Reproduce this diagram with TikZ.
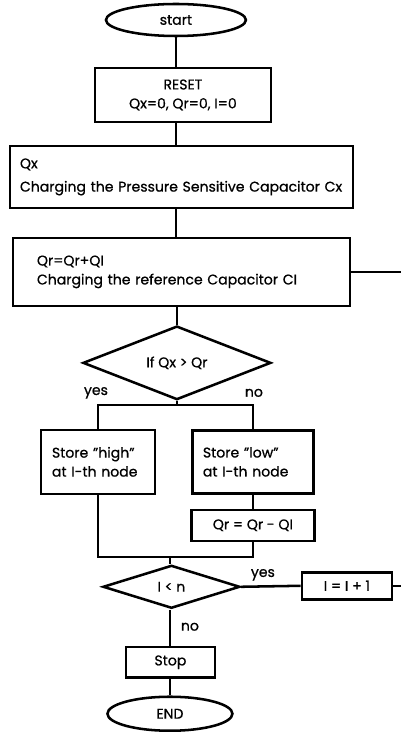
\documentclass[tikz,border=0pt]{standalone}
\usepackage{fontspec}
\setmainfont{Poppins}[FakeBold=0.8]
\usetikzlibrary{shapes.geometric}
\begin{document}
\begin{tikzpicture}[x=0.025cm,y=-0.025cm,font=\rmfamily\fontsize{10}{13.5}\selectfont,
  line width=1.8pt,
  box/.style={draw,rectangle,inner sep=0pt,align=center},
  term/.style={draw,ellipse,inner sep=0pt},
  test/.style={draw,diamond,inner sep=0pt},
  lbl/.style={inner sep=0pt}]
  \node[term,minimum width=3.5cm,minimum height=0.8cm] (start) at (176,20) {start};
  \node[box,minimum width=4.4cm,minimum height=1.35cm] (reset) at (183,95)
    {RESET\\Qx=0, Qr=0, I=0};
  \node[box,minimum width=8.575cm,minimum height=1.55cm,text width=8.075cm,align=left]
    (qx) at (181.5,177) {Qx\\[3pt]Charging the Pressure Sensitive Capacitor Cx};
  \node[box,minimum width=8.425cm,minimum height=1.7cm,text width=7.225cm,align=left]
    (qr) at (181.5,272) {Qr=Qr+QI\\Charging the reference Capacitor CI};
  \node[test,minimum width=4.7cm,minimum height=1.425cm] (cmp) at (177,363) {If Qx > Qr};
  \node[box,minimum width=2.85cm,minimum height=1.6cm,text width=2.3cm,align=left]
    (high) at (98,462) {Store "high"\\at I-th node};
  \node[box,minimum width=3.025cm,minimum height=1.575cm,text width=2.5cm,align=left]
    (low) at (253,462) {Store "low"\\at I-th node};
  \node[box,minimum width=3.075cm,minimum height=0.775cm] (sub) at (253,525.5) {Qr = Qr - QI};
  \node[test,minimum width=3.425cm,minimum height=1.075cm] (cnt) at (171.5,587) {I < n};
  \node[box,minimum width=2.25cm,minimum height=0.675cm] (inc) at (347,586) {I = I + 1};
  \node[box,minimum width=2.225cm,minimum height=0.775cm] (stop) at (170.5,662.5) {Stop};
  \node[term,minimum width=3.125cm,minimum height=0.85cm] (end) at (170,714) {END};
  \node[lbl] (yes1) at (96,393) {yes};
  \node[lbl] (no1) at (254,393) {no};
  \node[lbl] (yes2) at (263,575) {yes};
  \node[lbl] (no2) at (190,627) {no};
  \coordinate (split) at (177,405);
  \coordinate (join) at (170,557);
  \coordinate (backA) at (401,272);
  \coordinate (backB) at (401,586);
  \draw (start.south) -- (start.south |- reset.north);
  \draw (start.south |- reset.south) -- (start.south |- qx.north);
  \draw (start.south |- qx.south) -- (start.south |- qr.north);
  \draw (qr.south -| cmp) -- (cmp.north);
  \draw (cmp.south) -- (split);
  \draw (high.north) |- (split) -| (low.north);
  \draw (low.south) -- (sub.north);
  \draw (high.south) |- (join) -| (sub.south);
  \draw (join) -- (join |- cnt.north);
  \draw (cnt.east) -- (inc.west);
  \draw (inc.east) -- (backB);
  \draw (qr.east) -- (backA);
  \draw (cnt.south -| join) -- (join |- stop.north);
  \draw (join |- stop.south) -- (join |- end.north);
  \path[use as bounding box] (0,0) rectangle (401,732);
\end{tikzpicture}
\end{document}
